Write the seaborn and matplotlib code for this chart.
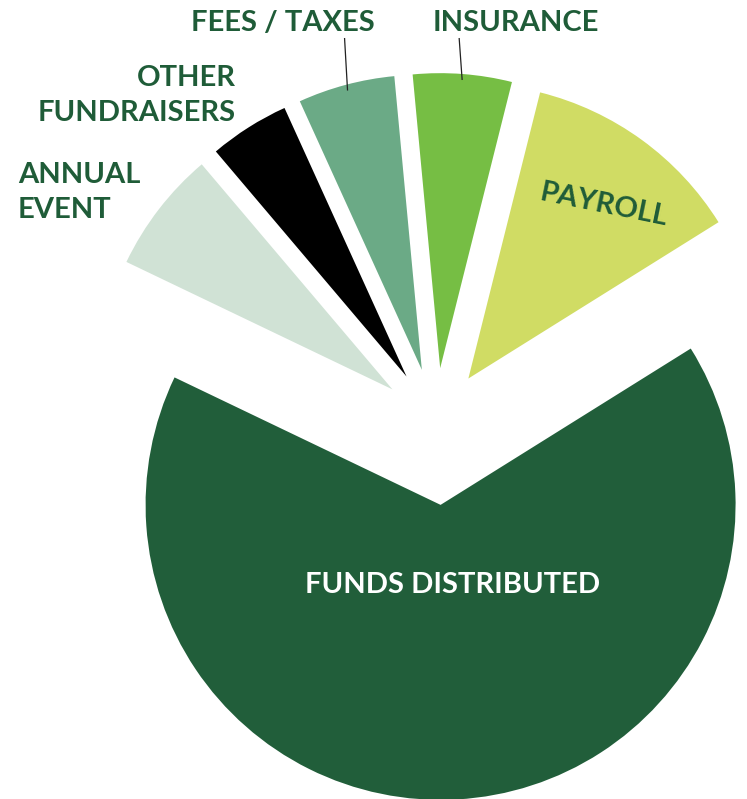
import numpy as np
import matplotlib
matplotlib.use("Agg")
import matplotlib.pyplot as plt
import seaborn as sns

# ── Data ─────────────────────────────────────────────────────────────
categories = ["PAYROLL", "INSURANCE", "FEES / TAXES", "OTHER\nFUNDRAISERS",
              "ANNUAL\nEVENT", "FUNDS DISTRIBUTED"]
shares = [12.2, 5.4, 5.3, 4.4, 6.7, 66.0]
colors = ["#D0DC64", "#76BE44", "#6BAA86", "#000000", "#D0E2D5", "#215E3A"]

# ── Style ────────────────────────────────────────────────────────────
sns.set_theme(style="white")
plt.rcParams["font.family"] = ["Lato", "DejaVu Sans"]
TEXT_GREEN = "#1F5C38"

W, H = 747, 799
fig = plt.figure(figsize=(W / 100, H / 100), dpi=100)
ax = fig.add_axes([0, 0, 1, 1])

# pie drawn in pixel-sized data units (y up)
R = 295
center = (436, H - 423)
explode = [55, 55, 55, 55, 55, 82]
wedges, _ = ax.pie(shares, colors=colors, startangle=32, counterclock=True,
                   radius=R, center=center, explode=explode,
                   wedgeprops=dict(linewidth=0, antialiased=True))
ax.set_xlim(0, W)
ax.set_ylim(0, H)
ax.set_aspect("auto")
ax.axis("off")

FS = 21


def label_lines(text, x, baselines, ha, color=TEXT_GREEN):
    for line, yb in zip(text.split("\n"), baselines):
        ax.text(x, H - yb, line, ha=ha, va="baseline", fontsize=FS,
                fontweight="bold", color=color)


label_lines(categories[2], 283, [31], "center")
label_lines(categories[1], 516, [31], "center")
label_lines(categories[3], 236, [86, 121], "right")
label_lines(categories[4], 18, [183, 218], "left")
label_lines(categories[5], 453, [593], "center", color="white")

ax.text(604, H - 205, categories[0], ha="center", va="center", rotation=-11.5,
        rotation_mode="anchor", fontsize=FS, fontweight="bold", color=TEXT_GREEN)

# leader lines from the label down into the outer arc of the slice
for w in (wedges[1], wedges[2]):
    mid = np.deg2rad((w.theta1 + w.theta2) / 2)
    cx, cy = w.center
    x_end = cx + (w.r - 6) * np.cos(mid)
    y_end = cy + (w.r - 6) * np.sin(mid)
    ax.plot([x_end - 3, x_end], [H - 38, y_end], color="#222222", lw=0.9,
            zorder=5, solid_capstyle="butt")

fig.savefig("out.png", dpi=100)
